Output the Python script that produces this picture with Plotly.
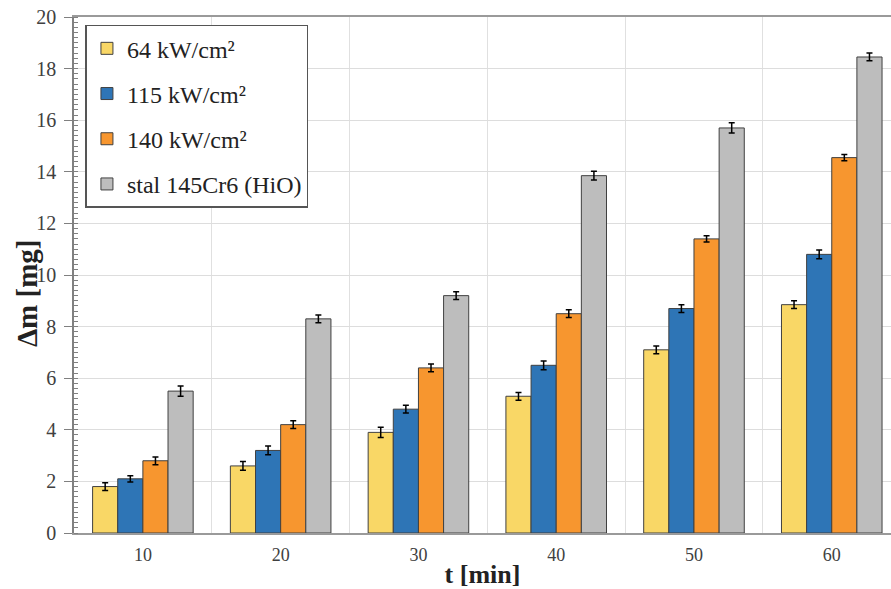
import plotly.graph_objects as go

t_labels = ["10", "20", "30", "40", "50", "60"]
s64 = [1.8, 2.6, 3.9, 5.3, 7.1, 8.85]
s115 = [2.1, 3.2, 4.8, 6.5, 8.7, 10.8]
s140 = [2.8, 4.2, 6.4, 8.5, 11.4, 14.55]
stal = [5.5, 8.3, 9.2, 13.85, 15.7, 18.45]
err64 = [0.15, 0.17, 0.2, 0.15, 0.15, 0.15]
err115 = [0.12, 0.17, 0.15, 0.17, 0.15, 0.17]
err140 = [0.15, 0.15, 0.15, 0.15, 0.12, 0.12]
errstal = [0.2, 0.15, 0.15, 0.17, 0.2, 0.15]

names = ["64 kW/cm²", "115 kW/cm²", "140 kW/cm²", "stal 145Cr6 (HiO)"]
colors = ["#F9D766", "#2E75B6", "#F7962F", "#BDBDBD"]
series = [s64, s115, s140, stal]
errs = [err64, err115, err140, errstal]

xpos = list(range(len(t_labels)))
serif = "Liberation Serif, Times New Roman, serif"

fig = go.Figure()
for i, (nm, col, vals, er) in enumerate(zip(names, colors, series, errs)):
    fig.add_trace(go.Bar(
        x=xpos, y=vals, name=nm, legendgroup=f"g{i}",
        marker=dict(color=col, line=dict(color="#404040", width=1)),
        error_y=dict(type="data", array=er, color="black", thickness=1.5, width=3),
    ))

fig.update_layout(
    width=891, height=589,
    margin=dict(l=74, r=0, t=17, b=56),
    paper_bgcolor="white", plot_bgcolor="white",
    barmode="group", bargap=0.27, bargroupgap=0,
    font=dict(family=serif, color="#404040"),
    legend=dict(
        x=0.014, y=0.985, xanchor="left", yanchor="top",
        bgcolor="white", bordercolor="#555555", borderwidth=1.5,
        font=dict(family=serif, size=24, color="#222222"),
        tracegroupgap=11, itemwidth=30,
    ),
    showlegend=True,
    annotations=[dict(
        text="<b>Δm [mg]</b>", textangle=-90, showarrow=False,
        xref="paper", yref="paper", x=-0.0575, y=0.465,
        xanchor="center", yanchor="middle",
        font=dict(family=serif, size=29, color="#222222"),
    )],
)
fig.update_xaxes(
    range=[-0.5, 5.43], tickmode="array", tickvals=xpos, ticktext=t_labels,
    showgrid=False, zeroline=False,
    showline=True, linecolor="#9A9A9A", linewidth=1.5, mirror=True,
    ticks="", ticklabelstandoff=5,
    tickfont=dict(family=serif, size=18, color="#404040"),
    minor=dict(tick0=0.5, dtick=1, showgrid=True, gridcolor="#E0E0E0", gridwidth=1),
    title=dict(text="<b>t [min]</b>", font=dict(family=serif, size=26, color="#222222"), standoff=3),
)
fig.update_yaxes(
    range=[0, 20], tickmode="linear", tick0=0, dtick=2,
    showgrid=True, gridcolor="#DDDDDD", gridwidth=1, zeroline=False,
    showline=True, linecolor="#808080", linewidth=1.5,
    ticks="outside", ticklen=8, tickcolor="#808080",
    ticklabelstandoff=4,
    tickfont=dict(family=serif, size=20, color="#404040"),
    minor=dict(dtick=0.2, ticks="inside", ticklen=4, tickcolor="#808080", showgrid=False),
)

fig.write_html("out.html", config={"displayModeBar": False},
               post_script="document.body.style.margin='0px';")
